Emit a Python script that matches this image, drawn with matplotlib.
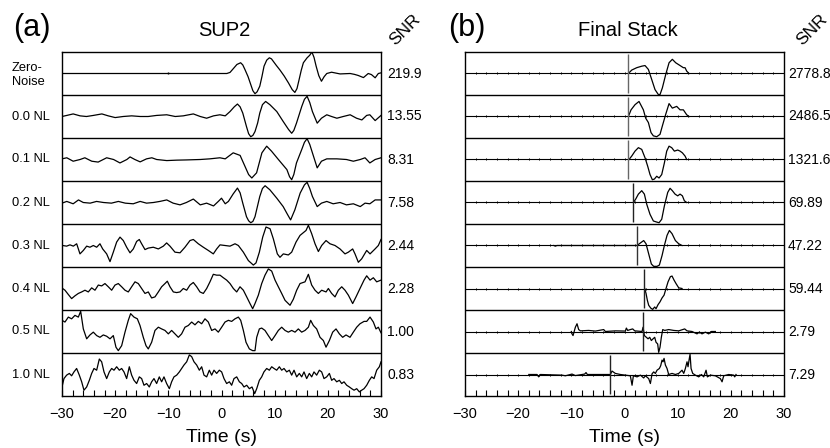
import matplotlib
matplotlib.use("Agg")
import matplotlib.pyplot as plt
import numpy as np

plt.rcParams['font.family'] = ['Liberation Sans', 'DejaVu Sans']

# ---------------- data ----------------
row_labels = ['Zero-\nNoise', '0.0 NL', '0.1 NL', '0.2 NL', '0.3 NL', '0.4 NL', '0.5 NL', '1.0 NL']
snr_a = ['219.9', '13.55', '8.31', '7.58', '2.44', '2.28', '1.00', '0.83']
snr_b = ['2778.8', '2486.5', '1321.6', '69.89', '47.22', '59.44', '2.79', '7.29']
pick_b = [0.6, 0.6, 0.73, 1.67, 2.29, 3.67, 3.49, -2.72]
pick_colors = ['#666666', '#666666', '#666666', '#222222', '#333333', '#222222', '#222222', '#222222']
tick_major = [-30, -20, -10, 0, 10, 20, 30]
tick_minor = list(range(-30, 31, 2))

# Panel (a) SUP2 traces (time s, normalised amplitude)
zn_t = [-30, 1.0, 1.6, 2.2, 2.9, 3.6, 4.0, 4.4, 5.0, 5.4, 5.9, 6.3, 6.7, 7.2, 7.6, 8.0, 8.5, 9.0, 9.4, 9.7,
        10.3, 11.0, 11.8, 12.6, 13.3, 13.8, 14.2, 14.6, 15.0, 15.4, 16.1, 16.6, 17.0, 17.4, 17.8, 18.3,
        18.8, 19.3, 19.8, 20.7, 22.3, 24.2, 25.0, 25.7, 26.7, 27.6, 28.2, 28.9, 29.5, 30.0]
zn_v = [0, 0, 0.05, 0.22, 0.42, 0.5, 0.4, 0.19, -0.15, -0.44, -0.8, -0.94, -0.85, -0.59, -0.15, 0.34, 0.62,
        0.73, 0.68, 0.58, 0.38, 0.16, -0.12, -0.44, -0.75, -0.88, -0.7, -0.28, 0.15, 0.5, 0.73, 0.85, 1.0,
        0.75, 0.34, -0.1, -0.36, -0.15, 0, 0.06, -0.02, 0, -0.04, -0.09, -0.19, 0, -0.05, -0.2, 0, 0.03]
zn_mark = -10.0

nl00_t = [-30.0, -29.1, -27.9, -26.6, -25.4, -24.1, -22.5, -21.3, -20.0, -18.5, -16.9, -15.3, -13.8, -12.2,
          -10.3, -8.7, -7.2, -5.3, -4.0, -2.8, -1.5, -0.3, 0.7, 1.6, 2.4, 3.0, 3.5, 4.0, 4.7, 5.1, 5.5, 5.9,
          6.3, 6.8, 7.2, 7.7, 8.3, 9.1, 10.4, 11.6, 12.6, 13.2, 13.6, 14.1, 15.1, 15.6, 16.1, 16.6, 17.1,
          18.0, 18.8, 19.8, 20.7, 21.7, 22.9, 24.2, 25.4, 26.4, 27.3, 27.9, 28.9, 30.0]
nl00_v = [0, 0.05, 0.12, 0.03, 0, 0.05, 0.12, 0.03, -0.05, 0, 0.03, 0, 0, 0.05, 0.08, 0, 0.03, 0.12, 0,
          -0.08, 0.03, 0.08, 0.03, 0.23, 0.45, 0.58, 0.45, 0.16, -0.47, -0.8, -0.94, -0.88, -0.7, -0.3, 0.16,
          0.55, 0.7, 0.55, 0.23, -0.23, -0.6, -0.78, -0.65, -0.31, 0.47, 0.8, 0.94, 0.65, 0.23, -0.31, -0.08,
          0.08, 0, -0.08, 0, 0.08, -0.08, -0.16, 0.05, 0.08, -0.19, 0.05]

nl01_t = [-30.0, -29.1, -27.9, -26.6, -25.7, -24.4, -23.2, -21.6, -20.3, -19.1, -17.8, -17.2, -16.3, -15.3,
          -14.1, -13.1, -12.2, -10.3, -8.4, -6.6, -4.0, -2.2, -0.3, 0.7, 2.2, 3.5, 4.4, 5.1, 5.7, 6.6, 7.6,
          8.5, 9.4, 10.7, 12.3, 12.8, 13.2, 13.6, 14.1, 15.1, 15.6, 16.1, 16.6, 17.1, 18.0, 18.8, 19.8, 21.7,
          23.5, 24.8, 26.1, 27.0, 27.9, 28.9, 30.0]
nl01_v = [0.03, 0.08, -0.08, 0, 0.08, -0.08, -0.12, 0.08, 0, -0.16, 0, 0.12, 0, -0.11, 0.03, 0.08, 0, -0.05,
          -0.03, -0.02, 0, 0.03, 0.08, 0.03, 0.31, 0.19, -0.31, -0.7, -0.86, -0.62, 0.31, 0.62, 0.39, 0,
          -0.47, -0.8, -0.94, -0.7, -0.16, 0.47, 0.8, 0.97, 0.7, 0.31, -0.39, -0.08, 0.03, 0.03, 0, -0.08, 0,
          0.08, -0.16, 0, 0.08]

nl02_t = [-30.0, -29.1, -27.9, -26.9, -26.0, -24.7, -23.5, -22.2, -20.7, -19.4, -18.1, -16.6, -15.3, -14.1,
          -12.8, -11.6, -10.3, -9.1, -7.8, -6.6, -5.3, -4.0, -2.8, -1.5, -0.6, 0.0, 0.7, 1.3, 2.2, 3.0, 3.5,
          4.0, 4.7, 5.1, 5.5, 5.9, 6.3, 7.2, 7.7, 8.2, 9.1, 10.4, 11.6, 12.4, 13.0, 13.8, 14.8, 15.6, 16.1,
          16.6, 17.1, 18.0, 18.8, 19.8, 21.0, 22.3, 23.5, 24.8, 26.1, 27.0, 27.9, 28.9, 30.0]
nl02_v = [-0.03, 0.05, -0.06, 0.12, 0, -0.03, 0.05, 0, -0.03, 0.05, -0.03, -0.06, 0.05, -0.03, 0, 0.05, 0.12,
          -0.03, -0.11, 0, 0.16, -0.11, -0.03, -0.16, 0.05, 0.2, -0.06, 0.05, 0.4, 0.67, 0.45, -0.03, -0.66,
          -0.85, -0.94, -0.88, -0.66, 0.28, 0.65, 0.78, 0.59, 0.2, -0.19, -0.55, -0.81, -0.34, 0.44, 0.82, 0.94,
          0.65, 0.28, -0.19, -0.03, 0.05, -0.06, 0, -0.11, -0.06, -0.19, -0.03, -0.06, 0.12, 0.12]

nl03_t = [-29.88, -29.13, -28.5, -27.87, -27.24, -26.62, -25.99, -25.36, -24.74, -24.11, -23.48, -22.86, -22.35,
          -21.6, -20.97, -20.35, -19.72, -19.09, -18.47, -17.84, -17.21, -16.59, -15.96, -15.46, -15.02,
          -14.39, -13.77, -12.83, -11.88, -10.94, -10.32, -9.69, -8.75, -7.8, -6.87, -5.93, -5.3, -4.36,
          -3.42, -2.48, -1.54, -0.91, -0.28, 0.66, 1.6, 2.54, 3.17, 4.11, 5.05, 5.99, 6.49, 7.12, 7.75, 8.37,
          9.13, 9.75, 10.5, 11.0, 11.63, 12.57, 13.2, 14.02, 14.77, 15.9, 16.34, 16.96, 17.59, 18.22, 18.84,
          19.66, 20.41, 21.35, 22.29, 23.23, 23.86, 24.67, 25.11, 25.74, 26.37, 27.31, 27.94, 28.88, 29.5, 30.0]
nl03_v = [0, -0.03, 0.03, -0.03, 0.08, -0.39, -0.23, -0.03, -0.08, 0, -0.08, 0.08, -0.16, -0.39, -0.75, -0.31,
          0.16, 0.39, 0.23, -0.08, -0.34, -0.16, 0.19, 0.28, 0.08, -0.19, -0.12, -0.08, -0.16, -0.03, 0.12,
          -0.03, -0.31, -0.34, -0.08, 0.23, 0.28, 0.08, -0.08, -0.23, -0.39, -0.16, 0.03, 0, -0.03, 0.08, 0,
          -0.31, -0.7, -0.91, -0.81, -0.31, 0.39, 0.86, 0.78, 0.31, -0.39, -0.55, -0.39, -0.44, -0.31, 0.16,
          0.47, 0.7, 0.94, 0.55, 0.08, -0.28, 0, 0.23, 0.08, 0, -0.16, -0.39, -0.31, -0.16, -0.39, -0.78,
          -0.62, -0.23, -0.39, -0.16, 0, 0.28]

nl04_t = [-29.88, -29.44, -28.81, -28.19, -27.56, -26.93, -26.3, -25.68, -25.05, -24.42, -23.8, -23.17, -22.54,
          -21.92, -21.29, -20.66, -20.03, -19.41, -18.78, -18.15, -17.53, -16.9, -16.27, -15.65, -15.02,
          -14.39, -13.77, -13.14, -12.51, -11.88, -11.26, -10.63, -10.19, -9.69, -9.06, -8.43, -7.81, -7.18,
          -6.55, -5.93, -5.3, -4.67, -4.05, -3.42, -2.79, -2.17, -1.54, -0.91, -0.28, 0.35, 0.97, 1.6, 2.23,
          2.86, 3.48, 4.11, 4.74, 5.36, 5.86, 6.3, 6.93, 7.56, 8.18, 8.81, 9.44, 10.07, 10.69, 11.32, 11.95,
          12.89, 13.51, 14.14, 14.77, 15.71, 16.34, 16.96, 17.59, 18.22, 18.84, 19.66, 20.1, 20.72, 21.35,
          21.98, 22.61, 23.23, 23.86, 24.67, 25.3, 26.05, 26.81, 27.31, 27.94, 28.56, 29.19, 30.0]
nl04_v = [0, -0.08, -0.28, -0.47, -0.34, -0.23, -0.16, -0.08, -0.16, 0.03, -0.08, 0.16, 0.12, 0.23, 0.08, -0.08,
          0.16, 0.23, 0.08, -0.08, -0.16, 0.08, 0.31, 0.23, 0, -0.23, -0.16, -0.44, -0.39, -0.16, 0.08, 0.23,
          0.34, 0.08, -0.16, -0.19, -0.16, 0, -0.08, 0.16, 0.28, 0.08, -0.16, -0.23, 0, 0.31, 0.66, 0.62, 0.62,
          0.5, 0.39, 0.23, 0, -0.16, 0.08, -0.08, -0.39, -0.7, -0.94, -0.7, -0.31, 0.23, 0.62, 0.91, 0.81, 0.39,
          0.08, -0.23, -0.55, -0.78, -0.5, -0.08, 0.23, 0.31, 0.66, 0.16, -0.08, -0.23, -0.08, -0.16, 0, -0.23,
          -0.39, -0.08, 0.08, -0.08, -0.31, -0.7, -0.39, 0, 0.39, 0.59, 0.39, 0.5, 0.31, 0.39]

nl05_t = [-30.0, -29.44, -28.81, -28.19, -27.56, -26.93, -26.49, -25.99, -25.36, -24.74, -24.11, -23.48, -22.86,
          -22.23, -21.6, -20.97, -20.35, -19.85, -19.41, -18.78, -18.15, -17.53, -17.09, -16.46, -15.83,
          -15.33, -14.71, -14.2, -13.77, -13.14, -12.51, -11.88, -11.26, -10.63, -10.0, -9.38, -8.75, -8.12,
          -7.5, -6.87, -6.24, -5.61, -4.99, -4.36, -3.73, -3.11, -2.48, -1.85, -1.22, -0.6, 0.03, 0.66, 1.29,
          1.91, 2.54, 3.17, 3.61, 4.11, 4.61, 5.24, 5.86, 6.3, 6.62, 7.12, 7.56, 8.18, 8.81, 9.44, 10.07,
          10.69, 11.32, 11.95, 12.57, 13.2, 13.83, 14.45, 15.08, 15.71, 16.34, 16.77, 17.28, 17.9, 18.53,
          19.16, 19.66, 20.29, 20.91, 21.54, 22.17, 22.79, 23.42, 24.17, 24.8, 25.43, 26.05, 26.81, 27.31,
          27.94, 28.56, 29.06, 29.5, 30.0]
nl05_v = [0.52, 0.44, 0.67, 0.59, 0.75, 0.67, 0.94, 0.12, -0.34, -0.16, -0.03, -0.19, -0.27, -0.16, -0.22,
          -0.34, -0.19, -0.73, -0.89, -0.66, -0.03, 0.52, 0.83, 0.67, 0.59, 0.28, -0.27, -0.66, -0.81, -0.5,
          0.05, 0.2, 0.12, 0.05, -0.11, 0.05, -0.11, -0.27, -0.11, 0.2, 0.28, 0.44, 0.31, 0.47, 0.36, 0.59, 0.44,
          0.05, 0.12, -0.03, 0.2, 0.44, 0.52, 0.47, 0.59, 0.67, 0.52, 0.05, -0.5, -0.81, -0.89, -0.89, -0.27,
          0.12, 0.16, 0.05, -0.19, -0.42, -0.19, 0.05, 0.2, 0.05, -0.03, 0.05, -0.03, 0.12, -0.03, 0.05, 0.2,
          0.52, 0.28, 0.12, -0.27, -0.42, -0.73, -0.42, -0.03, 0.12, -0.11, -0.27, -0.16, -0.27, -0.03, 0.2,
          0.36, 0.47, 0.47, 0.67, 0.44, 0.12, 0.2, -0.06]

nl10_t = [-30.0, -29.63, -29.13, -28.62, -28.19, -27.75, -27.25, -26.74, -26.3, -25.87, -25.36, -24.86, -24.42,
          -23.98, -23.48, -22.98, -22.54, -22.1, -21.6, -21.1, -20.66, -20.22, -19.72, -19.22, -18.78, -18.34,
          -17.84, -17.34, -16.9, -16.46, -15.96, -15.46, -15.02, -14.58, -14.08, -13.58, -13.14, -12.7, -12.2,
          -11.7, -11.26, -10.82, -10.32, -9.81, -9.38, -8.94, -8.43, -7.93, -7.49, -7.06, -6.55, -6.05, -5.61,
          -5.17, -4.67, -4.17, -3.73, -3.29, -2.79, -2.29, -1.85, -1.41, -0.91, -0.41, 0.03, 0.47, 0.97, 1.48,
          1.91, 2.35, 2.86, 3.36, 3.8, 4.23, 4.74, 5.24, 5.74, 6.24, 6.62, 7.12, 7.56, 7.98, 8.5, 9.0, 9.44,
          9.88, 10.38, 10.88, 11.32, 11.76, 12.26, 12.76, 13.2, 13.64, 14.14, 14.64, 15.08, 15.52, 16.02,
          16.52, 16.96, 17.4, 17.9, 18.4, 18.84, 19.28, 19.78, 20.29, 20.72, 21.16, 21.67, 22.17, 22.61,
          23.04, 23.55, 24.05, 24.49, 24.93, 25.43, 25.93, 26.37, 26.81, 27.31, 27.81, 28.25, 28.69, 29.19,
          29.69, 30.0]
nl10_v = [-0.58, -0.19, -0.03, 0.05, -0.06, 0.12, 0.28, -0.03, -0.34, -0.73, -0.58, -0.27, 0.05, 0.28, 0.2,
          0.72, 0.59, 0.12, -0.19, 0.12, 0.28, 0.2, 0.36, 0.2, 0.28, 0.12, -0.19, 0.36, -0.03, -0.27, -0.42,
          -0.11, -0.19, -0.5, -0.42, -0.58, -0.34, -0.19, -0.42, -0.11, -0.34, -0.11, -0.42, -0.66, -0.34,
          -0.11, -0.03, 0.12, 0.28, 0.44, 0.59, 0.91, 0.83, 0.59, 0.44, 0.2, 0.36, -0.03, -0.11, 0.2, -0.03,
          0.2, 0.05, 0.2, 0.12, -0.19, -0.42, -0.34, -0.5, -0.19, -0.11, -0.34, -0.42, -0.58, -0.5, -0.66,
          -0.58, -0.89, -0.66, -0.27, -0.11, 0.12, 0.28, 0.2, 0.36, 0.28, 0.2, 0.36, 0.2, 0.28, 0.12, 0.2,
          -0.03, 0.2, -0.11, 0.05, -0.11, 0.12, -0.19, 0.05, -0.11, 0.12, -0.03, 0.2, 0.12, -0.19, -0.11, 0.05,
          -0.27, -0.19, -0.34, -0.27, -0.42, -0.34, -0.5, -0.58, -0.66, -0.73, -0.66, -0.81, -0.73, -0.66,
          -0.5, -0.27, -0.11, -0.19, 0.2, 0.36, 0.59]

traces_a = [(zn_t, zn_v), (nl00_t, nl00_v), (nl01_t, nl01_v), (nl02_t, nl02_v),
            (nl03_t, nl03_v), (nl04_t, nl04_v), (nl05_t, nl05_v), (nl10_t, nl10_v)]

# Panel (b) Final Stack traces
fs1_t = [0.73, 1.36, 2.3, 3.24, 3.86, 4.49, 5.12, 5.74, 6.37, 6.68, 7.12, 7.75, 8.38, 9.0, 9.63, 10.45, 11.07,
         11.39, 11.7, 12.14]
fs1_v = [0, 0.16, 0.27, 0.34, 0.37, 0.19, -0.28, -0.75, -0.98, -0.98, -0.67, -0.05, 0.5, 0.66, 0.5, 0.37, 0.27,
         0.27, 0.11, 0]
fs2_t = [0.73, 1.23, 1.98, 2.73, 3.55, 3.99, 4.49, 4.99, 5.43, 6.06, 6.68, 7.12, 7.75, 8.38, 9.0, 9.82, 10.45,
         11.07, 11.7, 12.14]
fs2_v = [0, 0.31, 0.55, 0.7, 0.31, -0.08, -0.28, -0.75, -0.9, -0.94, -0.83, -0.44, 0.1, 0.6, 0.39, 0.47, 0.31,
         0.31, 0.08, 0]
fs3_t = [0.85, 1.36, 1.98, 2.61, 3.24, 3.86, 4.36, 4.8, 5.24, 5.62, 6.06, 6.5, 7.0, 7.5, 7.94, 8.38, 8.88, 9.38,
         10.01, 10.45, 10.89, 11.39, 11.7]
fs3_v = [0, 0.16, 0.39, 0.55, 0.47, 0.08, -0.31, -0.7, -0.94, -0.91, -0.78, -0.86, -0.7, -0.16, 0.39, 0.62,
         0.55, 0.39, 0.44, 0.39, 0.31, 0.16, 0]
fs4_t = [1.67, 2.11, 2.61, 3.24, 3.74, 4.18, 4.8, 5.43, 6.06, 6.5, 7.0, 7.5, 8.13, 8.57, 9.0, 9.51, 10.01, 10.45,
         10.89, 11.26, 11.7]
fs4_v = [0, 0.16, 0.39, 0.55, 0.39, -0.08, -0.55, -0.86, -0.91, -0.94, -0.78, -0.16, 0.47, 0.66, 0.55, 0.39,
         0.31, 0.39, 0.31, 0.08, 0]
fs5_t = [-13.3, -13.0, -12.7, 2.36, 3.0, 3.61, 4.05, 4.55, 5.05, 5.49, 6.12, 6.56, 7.06, 7.5, 8.0, 8.44, 8.94,
         9.57, 10.2, 10.82]
fs5_v = [0, -0.03, 0, 0, 0.12, 0.23, 0.08, -0.39, -0.86, -0.97, -0.97, -0.91, -0.47, 0, 0.47, 0.7, 0.55, 0.23,
         0.08, 0]
fs6_t = [3.8, 4.05, 4.3, 4.55, 4.93, 5.3, 5.68, 5.93, 6.31, 6.68, 7.06, 7.44, 7.81, 8.19, 8.63, 8.94, 9.32, 9.69,
         10.2, 10.82]
fs6_v = [0, -0.23, -0.55, -0.78, -0.91, -0.97, -0.86, -0.94, -0.75, -0.62, -0.44, -0.31, 0, 0.31, 0.55, 0.58,
         0.39, 0.23, 0.03, 0]
fs7_t = [-10.0, -9.87, -9.68, -9.24, -8.93, -8.62, -8.3, -6.74, -5.48, -3.91, -3.6, -1.72, 0.16, 0.35, 0.6, 1.1,
         1.54, 1.92, 3.3, 3.49, 3.74, 4.11, 4.43, 4.74, 5.05, 5.37, 5.68, 5.93, 6.24, 6.43, 6.68, 6.93, 7.19,
         7.56, 8.31, 9.25, 10.2, 11.32, 11.76, 12.7, 13.64, 14.08, 14.58, 15.21, 15.84, 16.34, 17.09]
fs7_v = [0, -0.11, -0.19, 0.2, 0.36, 0.09, 0.03, 0.05, 0.02, 0.09, 0, 0.03, 0.02, 0.16, 0.05, 0.09, 0.12, 0.03,
         0, 0.2, -0.19, -0.27, -0.34, -0.27, -0.42, -0.34, -0.27, -0.5, -0.58, -0.97, -0.73, -0.27, 0.09, 0.05,
         0.09, 0.05, 0.03, 0.12, 0.03, 0, -0.11, -0.03, -0.11, -0.03, -0.11, 0, 0]
fs8_t = [-18.0, -16.45, -16.14, -15.83, -11.75, -11.12, -9.87, -9.24, -7.49, -7.24, -6.99, -2.66, -2.35, -1.72,
         -0.78, 0.16, 1.1, 1.42, 1.67, 2.36, 2.99, 3.61, 3.93, 4.55, 4.87, 5.18, 5.49, 5.81, 6.12, 6.56, 6.81,
         7.06, 7.25, 7.44, 7.69, 8.0, 8.31, 8.94, 9.57, 10.2, 10.82, 11.14, 11.45, 11.76, 11.95, 12.14, 12.33,
         12.52, 12.83, 13.33, 13.96, 14.46, 14.9, 15.34, 15.59, 16.15, 17.09, 18.03, 18.35, 18.66, 19.6,
         20.54, 20.73, 20.98]
fs8_v = [0, 0, -0.11, 0, -0.03, -0.06, 0.02, -0.05, 0.02, 0.09, 0, 0, 0.16, 0.05, 0, -0.03, -0.06, -0.5, -0.06,
         -0.11, -0.03, -0.16, -0.06, -0.19, -0.42, 0.03, 0.12, 0.05, 0.2, 0.28, 0.41, 0.67, 0.59, 0.75, 0.44,
         0.28, 0, 0.05, 0, 0.05, 0.2, 0.05, 0.28, 0.59, 0.36, 0.67, 0.94, 0.28, 0.05, -0.03, -0.11, 0, -0.11,
         0.2, -0.11, -0.03, -0.06, -0.19, -0.34, -0.06, 0, -0.03, -0.11, 0]

traces_b = [(fs1_t, fs1_v), (fs2_t, fs2_v), (fs3_t, fs3_v), (fs4_t, fs4_v),
            (fs5_t, fs5_v), (fs6_t, fs6_v), (fs7_t, fs7_v), (fs8_t, fs8_v)]

# ---------------- figure ----------------
W, H = 830, 448
fig = plt.figure(figsize=(W / 100, H / 100), dpi=100)


def fx(px):
    return px / W


def fy(py):
    return 1 - py / H


nrows = 8
row_top, row_bot = 52, 396
row_h = (row_bot - row_top) / nrows


def make_panel(left_px, right_px, traces, snr, snr_x, panel_letter, letter_x, title, snr_lab_x,
               baseline=False, picks=None):
    ax = fig.add_axes([fx(left_px), fy(row_bot), (right_px - left_px) / W, (row_bot - row_top) / H])
    ax.set_xlim(-30, 30)
    ax.set_ylim(0, nrows)
    for i, (t, v) in enumerate(traces):
        c = nrows - 0.5 - i
        if baseline:
            bt = np.array(tick_minor, dtype=float)
            ax.plot(bt, np.full_like(bt, c), color='k', lw=0.8, marker='|', ms=1.8, mew=0.7, zorder=2)
        ax.plot(t, c + 0.5 * np.asarray(v), color='k', lw=0.9, zorder=3, solid_joinstyle='round')
        if picks is not None:
            ax.vlines(picks[i], c - 0.45, c + 0.45, color=pick_colors[i], lw=1.0, zorder=4)
        fig.text(fx(snr_x), fy(row_top + row_h * (i + 0.5)), snr[i], ha='left', va='center', fontsize=10)
    for k in range(1, nrows):
        ax.axhline(k, color='k', lw=1.0, zorder=5)
    for s in ax.spines.values():
        s.set_linewidth(1.0)
    ax.set_yticks([])
    ax.set_xticks(tick_major)
    ax.set_xticks(tick_minor, minor=True)
    ax.set_xticklabels(['\u221230', '\u221220', '\u221210', '0', '10', '20', '30'])
    ax.tick_params(axis='x', which='both', direction='in', length=4, width=0.8, top=False, pad=8,
                   labelsize=10.5)
    fig.text(fx((left_px + right_px) / 2), fy(437), 'Time (s)', ha='center', va='center', fontsize=14)
    fig.text(fx((left_px + right_px) / 2 + 3), fy(31), title, ha='center', va='center', fontsize=14.5)
    fig.text(fx(letter_x), fy(28), panel_letter, ha='left', va='center', fontsize=22)
    fig.text(fx(snr_lab_x), fy(30), 'SNR', ha='center', va='center', fontsize=12.5, rotation=45)
    return ax


axa = make_panel(62, 381, traces_a, snr_a, 387, '(a)', 13, 'SUP2', 405)
axa.plot([zn_mark], [nrows - 0.5], marker='|', ms=2, color='k', mew=1.0)
axb = make_panel(465, 784, traces_b, snr_b, 788, '(b)', 448, 'Final Stack', 812, baseline=True, picks=pick_b)

# row labels on the left of panel (a)
for i, lab in enumerate(row_labels):
    fig.text(fx(12), fy(row_top + row_h * (i + 0.5)) - (0.004 if i == 0 else 0), lab, ha='left', va='center',
             fontsize=9.3, linespacing=1.25)

fig.savefig('out.png', dpi=100)
